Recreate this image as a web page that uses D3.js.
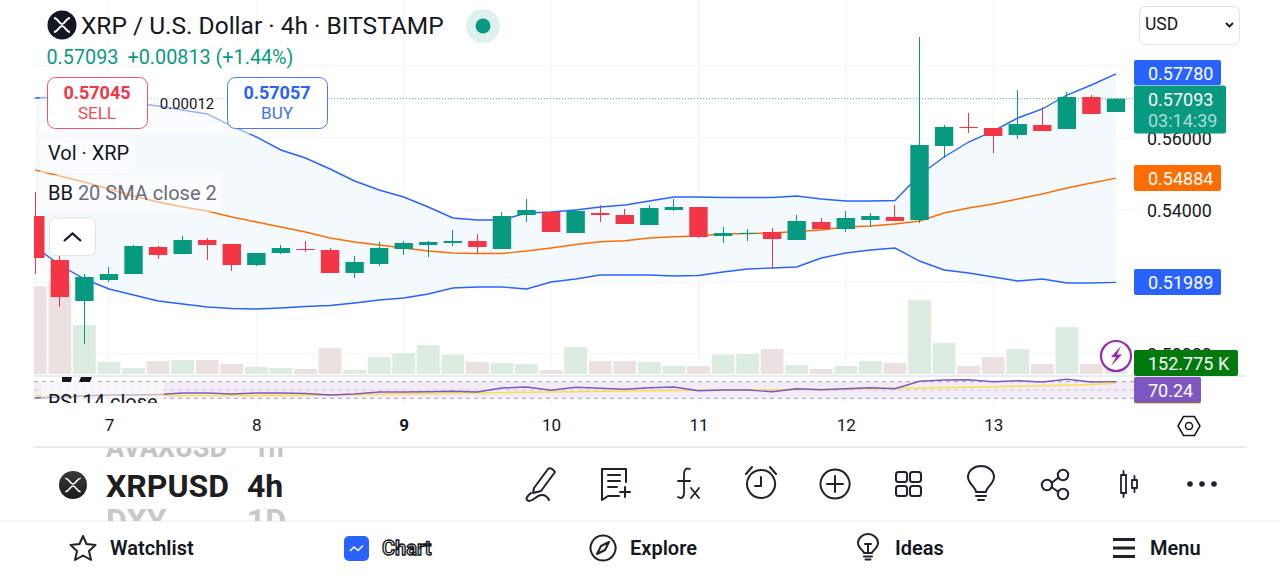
<![CDATA[<!DOCTYPE html>
<html><head><meta charset="utf-8">
<script src="https://cdn.jsdelivr.net/npm/d3@7/dist/d3.min.js"></script>
<style>html,body{margin:0;padding:0;background:#fff;overflow:hidden}svg{display:block;font-family:Roboto,sans-serif}</style>
</head><body><svg id="c" width="1280" height="576" viewBox="0 0 1280 576"></svg>
<script>
const opens=[.53833,.52611,.51472,.52056,.52222,.52972,.52778,.53167,.53056,.52472,.52806,.52917,.52889,.52250,.52500,.52917,.53028,.53083,.53139,.52917,.53861,.53944,.53361,.53917,.53861,.53583,.54000,.54083,.53278,.53333,.53389,.53167,.53667,.53472,.53722,.53806,.53722,.55778,.56306,.56278,.56083,.56361,.56250,.57139,.56722];
const closes=[.52667,.51583,.52139,.52222,.53000,.52750,.53167,.53028,.52472,.52806,.52944,.52889,.52250,.52556,.52944,.53083,.53111,.53139,.52972,.53833,.54000,.53389,.53972,.53861,.53611,.54056,.54083,.53250,.53361,.53361,.53194,.53694,.53472,.53778,.53833,.53694,.55806,.56306,.56278,.56056,.56389,.56194,.57139,.56667,.57093];
const highs=[.54500,.52806,.52222,.52417,.53028,.53000,.53278,.53222,.53056,.52806,.53028,.53139,.52944,.52722,.53111,.53139,.53139,.53444,.53333,.53944,.54306,.53944,.54028,.54139,.54028,.54139,.54306,.54083,.53528,.53472,.53500,.53861,.53778,.53972,.53917,.54139,.58806,.56361,.56694,.56278,.57333,.56861,.57278,.57194,.57093];
const lows=[.52222,.51306,.50278,.52000,.52222,.52639,.52778,.52611,.52306,.52444,.52778,.52833,.52250,.52111,.52444,.52750,.52694,.53000,.52806,.52917,.53667,.53389,.53361,.53667,.53611,.53583,.53972,.53222,.53083,.53139,.52361,.53167,.53472,.53389,.53528,.53694,.53639,.55444,.56139,.55583,.55972,.56194,.56250,.56667,.56722];
const upperBand=[.57111,.57139,.57139,.57083,.56972,.56889,.56778,.56667,.56333,.56028,.55667,.55444,.55139,.54806,.54556,.54361,.54083,.53778,.53722,.53722,.53917,.53944,.54000,.54083,.54139,.54250,.54361,.54361,.54347,.54347,.54347,.54389,.54306,.54250,.54250,.54264,.54972,.55472,.55889,.56194,.56556,.56806,.57194,.57472,.57780];
const basisBand=[.55111,.54944,.54778,.54583,.54389,.54222,.54083,.53972,.53806,.53667,.53528,.53389,.53222,.53111,.53028,.52944,.52861,.52806,.52792,.52792,.52861,.52944,.53042,.53119,.53147,.53222,.53258,.53278,.53333,.53347,.53361,.53403,.53444,.53528,.53556,.53611,.53694,.53917,.54056,.54167,.54306,.54444,.54611,.54750,.54884];
const lowerBand=[.52972,.52472,.52083,.51806,.51639,.51472,.51389,.51306,.51264,.51250,.51278,.51319,.51347,.51417,.51500,.51556,.51667,.51833,.51861,.51861,.51806,.52000,.52083,.52194,.52194,.52194,.52167,.52180,.52278,.52361,.52389,.52417,.52667,.52806,.52889,.52944,.52583,.52333,.52250,.52139,.52028,.52083,.51972,.51972,.51989];
const volumesK=[3360,3514,1872,458,229,497,535,535,382,267,229,191,993,153,649,802,1108,726,458,420,382,153,1031,497,497,458,306,306,726,764,955,344,191,306,497,420,2827,1184,306,649,955,382,1795,382,152.775];
const rsiValues=[30.7,33.1,35.5,37.9,37.9,39.2,42.8,42.8,40.4,42.8,42.8,41.6,37.9,40.4,45.2,45.2,45.9,46.9,45.2,54.8,57.2,49.3,56.5,54.1,51.7,55.5,57.2,48.3,50,50,45.9,53.1,50.7,53.1,55.5,53.1,71,74.1,74.8,70,72.4,69.3,75.8,69.3,70.24];
const rsiMa=[36.0,36.2,36.4,36.5,36.6,36.7,36.7,36.8,36.9,37.0,37.1,37.4,37.9,38.7,39.6,40.4,41.1,42,42.8,43.5,44.5,45.2,45.9,46.9,47.6,48.3,48.8,49.3,50,50.2,50.7,51.2,51.7,52.2,52.9,54.1,54.8,55.8,56.7,58,58.9,60.1,61.6,63.3,66.1];
const dayIndex=[3,9,15,21,27,33,39];
const dayLabels=["7","8","9","10","11","12","13"];
const priceTicks=[0.50,0.52,0.54,0.56,0.58];
const visiblePriceTicks=[0.50,0.54,0.56];

const INK="#131722",UP="#089981",DOWN="#F23645",BLUE="#2962FF",ORANGE="#FF6D00",PURPLE="#7E57C2";
const svg=d3.select("#c");
const x=d3.scaleLinear().domain([0,44]).range([35.3,1116]);
const y=d3.scaleLinear().domain([0.50,0.58]).range([354,66]);
const yVol=d3.scaleLinear().domain([0,3600]).range([374,280]);
const yRsi=d3.scaleLinear().domain([30,70]).range([398.3,381.7]);
const idx=d3.range(opens.length);

const defs=svg.append("defs");
defs.append("clipPath").attr("id","pane").append("rect").attr("x",34).attr("y",0).attr("width",1100).attr("height",375);
defs.append("clipPath").attr("id","rsi").append("rect").attr("x",34).attr("y",377).attr("width",1100).attr("height",26);
defs.append("clipPath").attr("id","roll").append("rect").attr("x",90).attr("y",448).attr("width",300).attr("height",73);
const g1=defs.append("linearGradient").attr("id","logo").attr("x1",0).attr("x2",0).attr("y1",0).attr("y2",1);
g1.append("stop").attr("offset",0).attr("stop-color","#3a3a3c");g1.append("stop").attr("offset",1).attr("stop-color","#1b1b1d");

// grid
const grid=svg.append("g").attr("stroke","#f2f3f6").attr("stroke-width",1);
grid.selectAll("line.h").data(priceTicks).join("line").attr("x1",34).attr("x2",1134).attr("y1",d=>y(d)).attr("y2",d=>y(d));
grid.selectAll("line.v").data(dayIndex).join("line").attr("class","v").attr("x1",d=>x(d)).attr("x2",d=>x(d)).attr("y1",0).attr("y2",403);

// volume
const pane=svg.append("g").attr("clip-path","url(#pane)");
pane.selectAll("rect.vol").data(idx).join("rect").attr("class","vol")
 .attr("x",i=>x(i)-11.4).attr("width",22.8).attr("y",i=>yVol(volumesK[i])).attr("height",i=>374-yVol(volumesK[i]))
 .attr("fill",i=>closes[i]>=opens[i]?"#ddece0":"#ece1e1");

// bollinger
const area=d3.area().x(i=>x(i)).y0(i=>y(lowerBand[i])).y1(i=>y(upperBand[i]));
pane.append("path").datum(idx).attr("d",area).attr("fill","#f4f9fe");
const ln=a=>d3.line().x(i=>x(i)).y(i=>y(a[i]));
[[upperBand,BLUE],[lowerBand,BLUE],[basisBand,ORANGE]].forEach(([a,c])=>pane.append("path").datum(idx).attr("d",ln(a)).attr("fill","none").attr("stroke",c).attr("stroke-width",1.4));

// last price line
pane.append("line").attr("x1",34).attr("x2",1134).attr("y1",y(closes[44])).attr("y2",y(closes[44])).attr("stroke",UP).attr("stroke-dasharray","1 2").attr("opacity",.7);

// candles
const col=i=>closes[i]>=opens[i]?UP:DOWN;
const snap=v=>Math.floor(v)+.5;
pane.selectAll("line.w").data(idx).join("line").attr("x1",i=>snap(x(i))).attr("x2",i=>snap(x(i))).attr("y1",i=>y(highs[i])).attr("y2",i=>y(lows[i])).attr("stroke",col).attr("stroke-width",1);
pane.selectAll("rect.b").data(idx).join("rect").attr("class","b").attr("x",i=>x(i)-9.2).attr("width",18.4)
 .attr("y",i=>y(Math.max(opens[i],closes[i]))).attr("height",i=>Math.max(1,Math.abs(y(opens[i])-y(closes[i])))).attr("fill",col);

// legend washes
[[40,72,290,62],[40,137,95,36],[40,175,182,37]].forEach(r=>svg.append("rect").attr("x",r[0]).attr("y",r[1]).attr("width",r[2]).attr("height",r[3]).attr("fill","#fff").attr("opacity",.5));

// pane separators
svg.append("line").attr("x1",34).attr("x2",1246).attr("y1",376).attr("y2",376).attr("stroke","#e3e5ec").attr("stroke-width",1.5);
svg.append("line").attr("x1",34).attr("x2",1246).attr("y1",447).attr("y2",447).attr("stroke","#e0e3eb").attr("stroke-width",1.5);
svg.append("line").attr("x1",0).attr("x2",1280).attr("y1",521).attr("y2",521).attr("stroke","#f0f3fa").attr("stroke-width",1.5);

// RSI
const r=svg.append("g").attr("clip-path","url(#rsi)");
r.append("rect").attr("x",34).attr("width",1100).attr("y",yRsi(70)).attr("height",yRsi(30)-yRsi(70)).attr("fill","#f1ecf8");
[70,50,30].forEach(v=>r.append("line").attr("x1",34).attr("x2",1134).attr("y1",yRsi(v)).attr("y2",yRsi(v)).attr("stroke","#9a9ca6").attr("stroke-width",.9).attr("stroke-dasharray","4 4").attr("opacity",v==50?.5:1));
const rl=a=>d3.line().x(i=>x(i)).y(i=>yRsi(a[i]));
r.append("path").datum(idx).attr("d",rl(rsiMa)).attr("fill","none").attr("stroke","#FDE047").attr("stroke-width",1.6);
r.append("path").datum(idx).attr("d",rl(rsiValues)).attr("fill","none").attr("stroke",PURPLE).attr("stroke-width",1.4);
r.append("rect").attr("x",41).attr("y",382).attr("width",123).attr("height",21).attr("fill","#fff").attr("opacity",.55);
r.append("text").attr("x",48).attr("y",409).attr("font-size",20).attr("fill",INK).text("RSI 14 close");
r.append("rect").attr("x",58).attr("y",377).attr("width",38).attr("height",6).attr("fill","#fff");
r.append("path").attr("d","M62 377h10l-1 5h-9zM81 377h11l-2 5h-11z").attr("fill",INK);

// axes
const yAxis=svg.append("g").attr("transform","translate(1147,0)").call(d3.axisRight(y).tickValues(visiblePriceTicks).tickFormat(d3.format(".5f")).tickSize(0).tickPadding(0));
yAxis.select(".domain").remove();
yAxis.selectAll("text").attr("font-size",17.800).attr("font-family","Roboto,sans-serif").attr("fill",INK).attr("dy","0.36em");
const xAxis=svg.append("g").attr("transform","translate(0,425)").call(d3.axisBottom(x).tickValues(dayIndex).tickFormat((d,i)=>dayLabels[i]).tickSize(0).tickPadding(0));
xAxis.select(".domain").remove();
xAxis.selectAll("text").attr("font-size",17).attr("font-family","Roboto,sans-serif").attr("fill",INK).attr("dy","0.35em").attr("y",0).attr("font-weight",(d,i)=>i==2?700:400);

// price labels
function tag(x0,y0,w,h,c,txt){svg.append("rect").attr("x",x0).attr("y",y0).attr("width",w).attr("height",h).attr("rx",2).attr("fill",c);
 svg.append("text").attr("x",x0+14).attr("y",y0+h/2+7).attr("font-size",18).attr("fill","#fff").text(txt);}
tag(1134,60,87,25,BLUE,d3.format(".5f")(upperBand[44]));
tag(1134,165,87,26,ORANGE,d3.format(".5f")(basisBand[44]));
tag(1134,269,87,26,BLUE,d3.format(".5f")(lowerBand[44]));
svg.append("rect").attr("x",1134).attr("y",85.5).attr("width",92).attr("height",48).attr("rx",2).attr("fill",UP);
svg.append("text").attr("x",1148).attr("y",105.5).attr("font-size",18).attr("fill","#fff").text(d3.format(".5f")(closes[44]));
svg.append("text").attr("x",1148).attr("y",126.5).attr("font-size",18).attr("fill","#fff").attr("opacity",.65).text("03:14:39");
tag(1134,350,104,26,"#007A0C",volumesK[44]+" K");
svg.append("rect").attr("x",1134).attr("y",377).attr("width",67).attr("height",27).attr("rx",2).attr("fill","#FDE047");
tag(1134,377,67,26,PURPLE,d3.format(".2f")(rsiValues[44]));

// lightning
svg.append("circle").attr("cx",1116).attr("cy",356).attr("r",15).attr("fill","#fff").attr("fill-opacity",.6).attr("stroke","#9C27B0").attr("stroke-width",2.2);
svg.append("path").attr("d","M1121 346l-10 11h5l-5 9 11-11.500h-5z").attr("fill","#9C27B0");

// header
function logo(cx,cy,rr,sw,fill){const g=svg.append("g").attr("transform",`translate(${cx},${cy})`);
 g.append("circle").attr("r",rr).attr("fill",fill);
 const k=rr/14.5;
 g.append("path").attr("d",`M${-8*k} ${-7*k}C${-4*k} ${-7*k} ${-3*k} ${-1*k} 0 ${-1*k}C${3*k} ${-1*k} ${4*k} ${-7*k} ${8*k} ${-7*k}M${-8*k} ${7*k}C${-4*k} ${7*k} ${-3*k} ${1*k} 0 ${1*k}C${3*k} ${1*k} ${4*k} ${7*k} ${8*k} ${7*k}`).attr("fill","none").attr("stroke","#fff").attr("stroke-width",sw);}
logo(62,25,14.5,1.9,INK);
svg.append("text").attr("x",81).attr("y",33.5).attr("font-size",24.5).attr("fill",INK).text("XRP / U.S. Dollar · 4h · BITSTAMP");
svg.append("circle").attr("cx",483).attr("cy",26).attr("r",17).attr("fill","#dff1ee");
svg.append("circle").attr("cx",483).attr("cy",26).attr("r",7.5).attr("fill",UP);
const hdr=svg.append("g").attr("font-size",19.800).attr("fill","#0a9a82");
hdr.append("text").attr("x",46.500).attr("y",64).text("0.57093");
hdr.append("text").attr("x",127.500).attr("y",64).text("+0.00813 (+1.44%)");

function tradeBox(x0,c,v,l){svg.append("rect").attr("x",x0+.5).attr("y",77.5).attr("width",100).attr("height",51).attr("rx",8).attr("fill","#fff").attr("stroke",c).attr("stroke-opacity",.85);
 svg.append("text").attr("x",x0+50).attr("y",99).attr("text-anchor","middle").attr("font-size",18).attr("font-weight",700).attr("fill",c).text(v);
 svg.append("text").attr("x",x0+50).attr("y",119).attr("text-anchor","middle").attr("font-size",17).attr("fill",c).attr("opacity",.9).text(l);}
tradeBox(47,DOWN,"0.57045","SELL");
tradeBox(227,BLUE,"0.57057","BUY");
svg.append("text").attr("x",187).attr("y",108.5).attr("text-anchor","middle").attr("font-size",15).attr("fill",INK).text("0.00012");
svg.append("text").attr("x",48).attr("y",160).attr("font-size",20).attr("fill",INK).text("Vol · XRP");
const bb=svg.append("text").attr("x",48).attr("y",200).attr("font-size",20).attr("fill","#6a6d78");
bb.append("tspan").attr("fill",INK).text("BB");bb.append("tspan").text(" 20 SMA close 2");

// collapse button
svg.append("rect").attr("x",49.500).attr("y",218).attr("width",46).attr("height",37.500).attr("rx",5).attr("fill","#fff").attr("stroke","#e0e3eb");
svg.append("path").attr("d","M64 241l8.500-7.500 8.500 7.500").attr("fill","none").attr("stroke",INK).attr("stroke-width",2.2);

// USD
svg.append("rect").attr("x",1139.500).attr("y",6.500).attr("width",100).attr("height",38).attr("rx",6).attr("fill","#fff").attr("stroke","#e0e3eb");
svg.append("text").attr("x",1145).attr("y",30).attr("font-size",17.500).attr("fill",INK).text("USD");
svg.append("path").attr("d","M1226 23l3.500 3.500 3.500-3.500").attr("fill","none").attr("stroke",INK).attr("stroke-width",1.8);

// settings hexagon
svg.append("path").attr("d","M1178 426l5.500-9.500h11l5.500 9.500-5.500 9.500h-11z").attr("fill","none").attr("stroke",INK).attr("stroke-width",1.5);
svg.append("circle").attr("cx",1189).attr("cy",426).attr("r",3.500).attr("fill","none").attr("stroke",INK).attr("stroke-width",1.5);

// symbol roller
logo(73,485,14,1.6,"url(#logo)");
const roll=svg.append("g").attr("clip-path","url(#roll)").attr("font-weight",700).attr("font-size",32);
roll.append("text").attr("x",106).attr("y",496.5).attr("fill","#1e1e22").text("XRPUSD");
roll.append("text").attr("x",247).attr("y",496.5).attr("fill","#1e1e22").text("4h");
roll.append("text").attr("x",106).attr("y",457).attr("font-size",27).attr("fill","#c4c4c6").text("AVAXUSD");
roll.append("text").attr("x",253).attr("y",457).attr("font-size",27).attr("fill","#c4c4c6").text("1h");
roll.append("text").attr("x",106).attr("y",531).attr("fill","#c8c8ca").text("DXY");
roll.append("text").attr("x",247).attr("y",531).attr("fill","#c8c8ca").text("1D");

// toolbar icons
const ic=svg.append("g").attr("fill","none").attr("stroke","#1e222d").attr("stroke-width",2).attr("stroke-linecap","round").attr("stroke-linejoin","round");
function P(cx,cy,d,sw){const p=ic.append("path").attr("transform",`translate(${cx},${cy})`).attr("d",d);if(sw)p.attr("stroke-width",sw);}
P(540,484,"M-6 4L8 -15C10 -17 13 -15 15 -12L1 7L-7 9ZM-9 9C-14 13 -15 16 -11 17C-6 17 -4 11 2 11C6 11 8 14 9 16");
P(616,484,"M10 -2V-15H-14V16L-8 12H3M-8 -9H4M-8 -3H4M-8 3H1M9 3V13M4 8H14");
P(686,484,"M4 -15C-1 -17 -2 -13 -2 -9V9C-2 14 -5 15 -8 13M-8 -3H4M5 4L13 14M13 4L5 14",1.8);
P(761,484,"M0 -14A14 14 0 1 0 0.100 -14M0 -7V2H-6M-15 -10L-9 -17M15 -10L9 -17");
P(835,484,"M0 -14.500A14.500 14.500 0 1 0 0.100 -14.500M0 -8V8M-8 0H8");
ic.selectAll("rect.sq").data([[896,472],[910,472],[896,486],[910,486]]).join("rect").attr("x",d=>d[0]).attr("y",d=>d[1]).attr("width",11).attr("height",10).attr("rx",2.5);
P(981,484,"M-5 8C-5 3 -13 0 -13 -7A13 11 0 1 1 13 -7C13 0 5 3 5 8ZM-5 12H5M-3 16H3");
ic.selectAll("circle.sh").data([[1047,485],[1063,475],[1063,494]]).join("circle").attr("cx",d=>d[0]).attr("cy",d=>d[1]).attr("r",5.2);
P(1055,484,"M-3.500 -1L3.500 -6.500M-3.500 3L3.500 8");
P(1123.5,484,"M0 -13V-9M0 9V13M-2.500 -9h5v18h-5zM11 -8V-4M11 4V8M8.500 -4h5v8h-5z",1.8);
ic.selectAll("circle.dots").data([1190,1202,1214]).join("circle").attr("cx",d=>d).attr("cy",484).attr("r",2.800).attr("fill","#1e222d").attr("stroke","none");

// bottom nav
P(83,548,"M0 -12L3.500 -4L12.500 -3L6 3L8 12L0 7.500L-8 12L-6 3L-12.500 -3L-3.500 -4Z");
svg.append("rect").attr("x",344).attr("y",536).attr("width",25).attr("height",25).attr("rx",5).attr("fill",BLUE);
svg.append("path").attr("d","M350 551l4-4 4 3.500 5-5").attr("fill","none").attr("stroke","#fff").attr("stroke-width",1.6);
P(603,548,"M0 -12.500A12.500 12.500 0 1 0 0.100 -12.500M6 -6L-2 -2L-6 6L2 2Z");
P(868,547,"M-4 6C-4 4 -10 1 -10 -4A10 9 0 1 1 10 -4C10 1 4 4 4 6ZM-4 9.500H4M-2.500 12.500H2.500M-3 -3H3M0 -3V5");
ic.append("path").attr("d","M1113 539.500H1135M1113 548H1135M1113 556.500H1135").attr("stroke-width",3).attr("stroke-linecap","butt");
const nav=svg.append("g").attr("font-size",20).attr("font-weight",600).attr("fill","#131722");
[["Watchlist",110],["Explore",630],["Ideas",895],["Menu",1150]].forEach(([t,xx])=>nav.append("text").attr("x",xx).attr("y",555).text(t));
nav.append("text").attr("x",382).attr("y",555).attr("fill","#fff").attr("stroke","#131722").attr("stroke-width",1.4).text("Chart");
</script></body></html>]]>
